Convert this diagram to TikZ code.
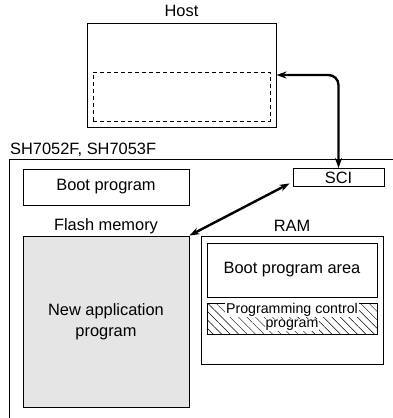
\documentclass[tikz,border=0pt]{standalone}
\usepackage{fontspec}
\setmainfont{Liberation Sans}
\usetikzlibrary{arrows.meta,patterns.meta}
\tikzset{
  box/.style={draw, line width=0.9pt, inner sep=0pt, align=center},
  lbl/.style={inner sep=0pt, align=center},
  small/.style={font=\fontsize{14.2}{15}\selectfont},
  arr/.style={line width=2.4pt, {Stealth[length=10pt,width=7pt]}-{Stealth[length=10pt,width=7pt]}},
}
\begin{document}
\begin{tikzpicture}[x=1pt,y=-1pt,font=\fontsize{16.4}{21}\selectfont]
\useasboundingbox (0,0) rectangle (392,418);
% host
\node[lbl] (hostlbl) at (181.5,11) {Host};
\node[box, minimum width=189pt, minimum height=104pt] (host) at (181.5,75) {};
\node[box, dashed, dash pattern=on 4pt off 3pt, minimum width=177pt, minimum height=49pt] (dash) at (181.5,96.5) {};
% chip
\node[lbl, anchor=base west] (chiplbl) at (10,154.5) {SH7052F, SH7053F};
\draw[line width=0.9pt] (9.5,430) -- (9.5,159.5) -- (400,159.5);
\node[box, minimum width=91pt, minimum height=18pt] (sci) at (338.5,177.5) {SCI};
\node[box, minimum width=166pt, minimum height=36pt] (boot) at (106,187) {Boot program};
\node[lbl] (flashlbl) at (106,226) {Flash memory};
\node[box, fill=black!10, minimum width=166pt, minimum height=171pt] (flash) at (106,321.5) {New application\\program};
\node[lbl] (ramlbl) at (292,226) {RAM};
\node[box, minimum width=182pt, minimum height=128pt] (ram) at (292,300) {};
\node[box, minimum width=170pt, minimum height=54pt] (bpa) at (292,270) {Boot program area};
\node[box, pattern={Lines[angle=-45,distance=6pt,line width=0.45pt]}, minimum width=170pt, minimum height=31pt] (pcp) at (292,318.5) {};
\node[lbl, small, fill=white, inner xsep=1pt, inner ysep=0.5pt] (pcp1) at (292,310) {Programming control};
\node[lbl, small, fill=white, inner xsep=1pt, inner ysep=0.5pt] (pcp2) at (292,325) {program};
% arrows
\draw[arr, rounded corners=10pt] (host.east) -| (sci.north);
\draw[arr] (flash.north east) -- ([xshift=-3pt,yshift=3.5pt]sci.south west);
\end{tikzpicture}
\end{document}
